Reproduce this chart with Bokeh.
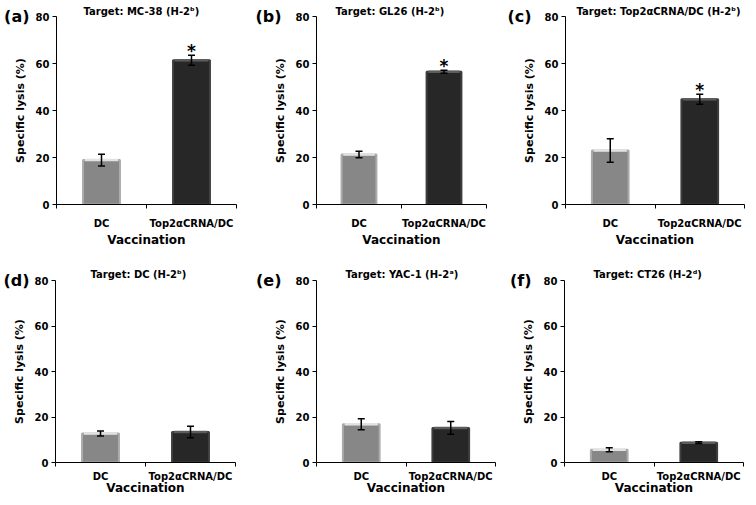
from bokeh.plotting import figure
from bokeh.models import (Range1d, FixedTicker, Whisker, TeeHead, ColumnDataSource,
                          LinearAxis)
from bokeh.layouts import column, row
from bokeh.embed import file_html
from bokeh.resources import INLINE
from bokeh.core.properties import value

FONT = "DejaVu Sans"

# ---------------- data ----------------
categories = ["DC", "Top2\u03b1CRNA/DC"]
panel_tags = ["(a)", "(b)", "(c)", "(d)", "(e)", "(f)"]
titles = [
    "Target: MC-38 (H-2\u1d47)",
    "Target: GL26 (H-2\u1d47)",
    "Target: Top2\u03b1CRNA/DC (H-2\u1d47)",
    "Target: DC (H-2\u1d47)",
    "Target: YAC-1 (H-2\u1d43)",
    "Target: CT26 (H-2\u1d48)",
]
dc_mean = [18.9, 21.3, 23.0, 12.8, 16.8, 5.6]
dc_err = [2.5, 1.4, 5.0, 1.1, 2.4, 0.9]
top_mean = [61.4, 56.5, 44.8, 13.4, 15.2, 8.7]
top_err = [2.1, 0.6, 2.1, 2.5, 2.8, 0.4]
significant = [True, True, True, False, False, False]
y_ticks = [0, 20, 40, 60, 80]
y_max = 80
x_label = "Vaccination"
y_label = "Specific lysis (%)"

# ---------------- styles / layout ----------------
fills = ["#878787", "#272727"]
edges = ["#ababab", "#3e3e3e"]
highlights = ["#e2e2e2", "#5c5c5c"]
BAR_W = 0.41
Y_AXIS_W = 50     # measured width of the main y axis block
TAG_W = 25        # width of the "(a)" style tag text

# figure geometry per panel: size, borders, title offset/standoff,
# x tick-label standoff and x axis-label standoff
geom = [
    dict(w=252, h=250, l=56, r=16, t=16, b=46, tdx=27, ts=0, ls=9, las=1),
    dict(w=250, h=250, l=64, r=16, t=16, b=46, tdx=19, ts=0, ls=9, las=1),
    dict(w=246, h=250, l=63, r=4, t=16, b=46, tdx=11, ts=0, ls=9, las=1),
    dict(w=252, h=247, l=55, r=17, t=30, b=34, tdx=35, ts=1, ls=4, las=-4),
    dict(w=250, h=247, l=64, r=7, t=30, b=34, tdx=29, ts=1, ls=4, las=-4),
    dict(w=246, h=247, l=62, r=5, t=30, b=34, tdx=29, ts=1, ls=4, las=-4),
]


def style_text_axis(ax, size):
    ax.major_label_text_font = FONT
    ax.major_label_text_font_style = "bold"
    ax.major_label_text_font_size = size
    ax.major_label_text_color = "black"


def make_panel(i):
    g = geom[i]
    p = figure(width=g["w"], height=g["h"], output_backend="svg", toolbar_location=None,
               x_range=Range1d(0, len(categories)), y_range=Range1d(0, y_max),
               min_border_left=g["l"], min_border_right=g["r"],
               min_border_top=g["t"], min_border_bottom=g["b"])
    p.outline_line_color = None
    p.xgrid.visible = False
    p.ygrid.visible = False

    xs = [k + 0.5 for k in range(len(categories))]
    means = [dc_mean[i], top_mean[i]]
    errs = [dc_err[i], top_err[i]]
    src = ColumnDataSource(dict(
        x=xs, top=means,
        upper=[m + e for m, e in zip(means, errs)],
        lower=[m - e for m, e in zip(means, errs)],
        fill=fills, edge=edges, hl=highlights,
        x0=[x - BAR_W / 2 + 0.02 for x in xs], x1=[x + BAR_W / 2 - 0.02 for x in xs],
    ))
    p.vbar(x="x", top="top", width=BAR_W, fill_color="fill", line_color="edge",
           line_width=2, source=src)
    p.segment(x0="x0", x1="x1", y0="top", y1="top", line_color="hl", line_width=2.5, source=src)
    p.add_layout(Whisker(source=src, base="x", upper="upper", lower="lower", line_color="black",
                         line_width=1.5, level="annotation",
                         upper_head=TeeHead(size=7, line_width=1.5, line_color="black"),
                         lower_head=TeeHead(size=7, line_width=1.5, line_color="black")))
    if significant[i]:
        star_src = ColumnDataSource(dict(x=[xs[1]], y=[means[1] + errs[1]], t=["*"]))
        p.text(x="x", y="y", text="t", source=star_src, text_align="center",
               text_baseline="alphabetic", y_offset=-4, text_font=value(FONT),
               text_font_style="bold", text_font_size="17px", text_color="black")

    # title
    p.title.text = titles[i]
    p.title.align = "left"
    p.title.offset = g["tdx"]
    p.title.standoff = g["ts"]
    p.title.text_font = FONT
    p.title.text_font_style = "bold"
    p.title.text_font_size = "10px"
    p.title.text_color = "black"

    # x axis
    xa = p.xaxis[0]
    xa.ticker = FixedTicker(ticks=xs, minor_ticks=list(range(len(categories) + 1)))
    xa.major_label_overrides = {x: c for x, c in zip(xs, categories)}
    xa.major_tick_out = 0
    xa.major_tick_in = 0
    xa.minor_tick_out = 4
    xa.minor_tick_in = 0
    xa.minor_tick_line_color = "black"
    xa.axis_line_color = "black"
    style_text_axis(xa, "10px")
    xa.major_label_standoff = g["ls"]
    xa.axis_label = x_label
    xa.axis_label_text_font = FONT
    xa.axis_label_text_font_style = "bold"
    xa.axis_label_text_font_size = "12px"
    xa.axis_label_text_color = "black"
    xa.axis_label_standoff = g["las"]

    # y axis
    ya = p.yaxis[0]
    ya.ticker = FixedTicker(ticks=y_ticks)
    ya.major_tick_out = 4
    ya.major_tick_in = 0
    ya.minor_tick_out = 0
    ya.minor_tick_in = 0
    ya.major_tick_line_color = "black"
    ya.axis_line_color = "black"
    style_text_axis(ya, "10px")
    ya.major_label_standoff = 3
    ya.axis_label = y_label
    ya.axis_label_text_font = FONT
    ya.axis_label_text_font_style = "bold"
    ya.axis_label_text_font_size = "11px"
    ya.axis_label_text_color = "black"
    ya.axis_label_standoff = 6

    # panel tag, written as the only label of an outer, line-less left axis
    tag_axis = LinearAxis(ticker=FixedTicker(ticks=[y_max]),
                          major_label_overrides={y_max: panel_tags[i]},
                          axis_line_color=None, major_tick_line_color=None,
                          minor_tick_line_color=None, major_tick_out=0, major_tick_in=0,
                          minor_tick_out=0, minor_tick_in=0,
                          major_label_standoff=g["l"] - Y_AXIS_W - TAG_W)
    style_text_axis(tag_axis, "16px")
    p.add_layout(tag_axis, "left")
    return p


panels = [make_panel(i) for i in range(6)]
layout = column(row(*panels[:3]), row(*panels[3:]))
open("out.html", "w").write(file_html(layout, INLINE))
